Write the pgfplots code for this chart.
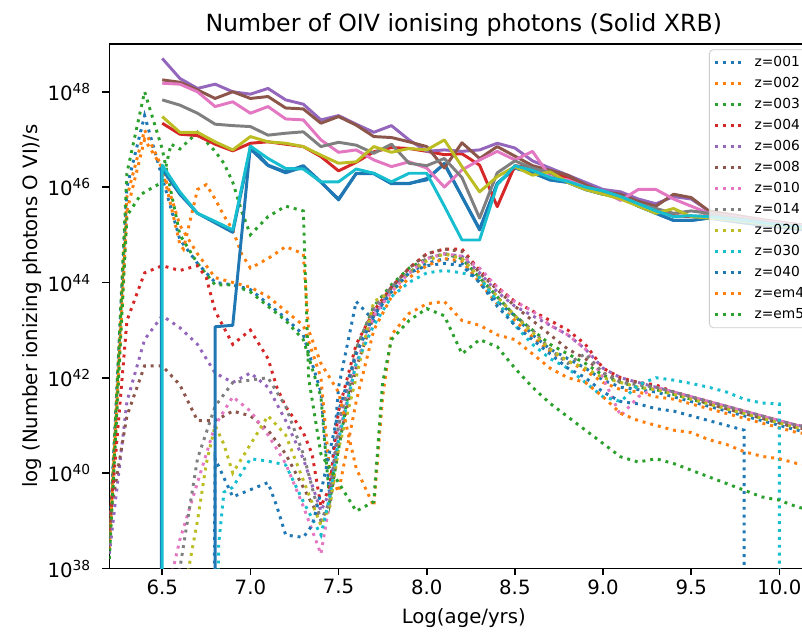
\documentclass[border=0pt]{standalone}
\usepackage{fontspec}
\setmainfont{DejaVu Sans}
\usepackage{pgfplots}
\pgfplotsset{compat=1.18}
\definecolor{C0}{HTML}{1F77B4}
\definecolor{C1}{HTML}{FF7F0E}
\definecolor{C2}{HTML}{2CA02C}
\definecolor{C3}{HTML}{D62728}
\definecolor{C4}{HTML}{9467BD}
\definecolor{C5}{HTML}{8C564B}
\definecolor{C6}{HTML}{E377C2}
\definecolor{C7}{HTML}{7F7F7F}
\definecolor{C8}{HTML}{BCBD22}
\definecolor{C9}{HTML}{17BECF}
\pgfplotsset{
  dotl/.style={line width=1.5pt, dash pattern=on 1.5pt off 2.5pt},
  soll/.style={line width=1.5pt, line join=round, forget plot},
}
\begin{document}
\begin{tikzpicture}
\begin{axis}[
  at={(0,0)}, anchor=south west,
  scale only axis, width=359.8pt, height=266.1pt,
  xmin=6.2, xmax=10.22, ymin=38, ymax=49,
  xtick={6.5,7,7.5,8,8.5,9,9.5,10},
  xticklabels={6.5,7.0,7.5,8.0,8.5,9.0,9.5,10.0},
  ytick={38,40,42,44,46,48},
  yticklabels={10\textsuperscript{38},10\textsuperscript{40},10\textsuperscript{42},10\textsuperscript{44},10\textsuperscript{46},10\textsuperscript{48}},
  minor tick num=0,
  tick pos=left, tick align=outside, major tick length=3.5pt,
  every tick/.style={black, line width=0.8pt},
  axis line style={line width=0.8pt},
  xticklabel style={font=\fontsize{10}{12}\selectfont, anchor=north, inner sep=0pt, yshift=-2pt},
  yticklabel style={font=\fontsize{10}{12}\selectfont, anchor=base east, inner sep=0pt, xshift=-5.5pt, yshift=-4.5pt},
  title={Number of OIV ionising photons (Solid XRB)},
  title style={font=\fontsize{12}{14}\selectfont, at={(axis description cs:0.5,1.0019)}, anchor=base, inner sep=0pt},
  xlabel={Log(age/yrs)},
  xlabel style={font=\fontsize{10}{12}\selectfont, at={(axis description cs:0.5,-0.1060)}, anchor=base, inner sep=0pt},
  ylabel={log (Number ionizing photons O VI)/s},
  ylabel style={font=\fontsize{10}{12}\selectfont, at={(axis description cs:-0.1014,0.5)}, anchor=base, inner sep=0pt},
  legend cell align=left,
  legend image code/.code={\draw[#1] (0pt,0pt) -- (14.4pt,0pt); \path (0pt,0pt) (18pt,0pt);},
  legend style={
    at={(axis description cs:0.846,0.99)}, anchor=north west,
    draw=black!20, fill=white, fill opacity=0.8, text opacity=1, draw opacity=1,
    rounded corners=2pt,
    font=\fontsize{7}{8}\selectfont,
    inner xsep=2pt, inner ysep=1.8pt,
    nodes={inner sep=1.5pt, text height=5.2pt, text depth=1.5pt},
    row sep=0.95pt,
  },
]
% ---------------- dotted series ----------------
\addplot[dotl, C0] coordinates {(6.2,38.6)(6.3,46.0)(6.4,47.5)(6.5,46.2)(6.6,44.9)(6.7,44.4)(6.8,44.0)(6.9,43.95)(7.0,43.85)(7.1,43.55)(7.2,43.25)(7.3,42.9)(7.4,41.7)(7.45,39.5)(7.5,41.8)(7.6,43.6)(7.7,43.2)(7.8,43.9)(7.9,44.2)(8.0,44.4)(8.1,44.5)(8.2,44.4)(8.3,44.0)(8.4,43.6)(8.5,43.3)(8.6,42.9)(8.7,42.6)(8.8,42.4)(8.9,42.2)(9.0,41.95)(9.1,41.8)(9.2,41.75)(9.3,41.7)(9.4,41.6)(9.5,41.5)(9.6,41.4)(9.7,41.3)(9.8,41.2)(9.9,41.1)(10.0,41.0)(10.1,40.9)(10.2,40.85)(10.3,40.8)};
\addlegendentry{z=001}
\addplot[dotl, C1] coordinates {(6.2,38.5)(6.3,45.8)(6.4,47.2)(6.5,46.4)(6.6,45.2)(6.7,44.6)(6.8,44.1)(6.9,44.0)(7.0,43.9)(7.1,43.7)(7.2,43.4)(7.3,43.1)(7.4,42.0)(7.45,40.0)(7.5,39.6)(7.6,41.5)(7.7,43.0)(7.8,43.7)(7.9,44.1)(8.0,44.35)(8.1,44.5)(8.2,44.45)(8.3,44.0)(8.4,43.55)(8.5,43.2)(8.6,42.85)(8.7,42.55)(8.8,42.35)(8.9,42.15)(9.0,41.9)(9.1,41.75)(9.2,41.7)(9.3,41.6)(9.4,41.55)(9.5,41.45)(9.6,41.35)(9.7,41.25)(9.8,41.15)(9.9,41.05)(10.0,40.95)(10.1,40.85)(10.2,40.8)(10.3,40.75)};
\addlegendentry{z=002}
\addplot[dotl, C2] coordinates {(6.2,38.3)(6.3,46.3)(6.4,48.0)(6.5,46.8)(6.6,45.0)(6.7,44.4)(6.8,43.95)(6.9,43.95)(7.0,43.8)(7.1,43.5)(7.2,43.2)(7.3,42.8)(7.4,41.6)(7.45,39.4)(7.5,40.5)(7.6,42.6)(7.7,43.5)(7.8,43.95)(7.9,44.3)(8.0,44.5)(8.1,44.6)(8.2,44.5)(8.3,44.1)(8.4,43.7)(8.5,43.3)(8.6,43.0)(8.7,42.7)(8.8,42.5)(8.9,42.3)(9.0,42.05)(9.1,41.9)(9.2,41.8)(9.3,41.75)(9.4,41.65)(9.5,41.55)(9.6,41.45)(9.7,41.35)(9.8,41.25)(9.9,41.15)(10.0,41.05)(10.1,40.95)(10.2,40.9)(10.3,40.85)};
\addlegendentry{z=003}
\addplot[dotl, C3] coordinates {(6.2,38.8)(6.3,43.2)(6.4,44.2)(6.5,44.35)(6.6,44.25)(6.7,44.35)(6.75,44.1)(6.8,43.4)(6.9,42.7)(7.0,43.0)(7.1,42.4)(7.15,41.8)(7.2,41.4)(7.3,40.85)(7.35,40.4)(7.4,39.3)(7.45,39.7)(7.5,41.3)(7.6,42.7)(7.7,43.4)(7.8,43.9)(7.9,44.3)(8.0,44.6)(8.1,44.7)(8.2,44.7)(8.3,44.25)(8.4,43.9)(8.5,43.6)(8.6,43.4)(8.7,43.2)(8.8,43.0)(8.9,42.7)(9.0,42.2)(9.1,42.0)(9.2,41.9)(9.3,41.85)(9.4,41.7)(9.5,41.6)(9.6,41.5)(9.7,41.4)(9.8,41.3)(9.9,41.2)(10.0,41.1)(10.1,41.0)(10.2,40.95)(10.3,40.9)};
\addlegendentry{z=004}
\addplot[dotl, C4] coordinates {(6.2,38.3)(6.3,41.5)(6.4,42.8)(6.5,43.3)(6.6,43.05)(6.7,42.7)(6.8,42.1)(6.9,41.9)(7.0,42.1)(7.1,41.8)(7.2,41.1)(7.3,40.3)(7.4,39.2)(7.45,39.6)(7.5,41.0)(7.6,42.5)(7.7,43.4)(7.8,43.9)(7.9,44.2)(8.0,44.5)(8.1,44.6)(8.2,44.55)(8.3,44.2)(8.4,43.8)(8.5,43.5)(8.6,43.3)(8.7,43.1)(8.8,42.9)(8.9,42.6)(9.0,42.2)(9.1,42.0)(9.2,41.9)(9.3,41.8)(9.4,41.7)(9.5,41.6)(9.6,41.5)(9.7,41.4)(9.8,41.3)(9.9,41.2)(10.0,41.1)(10.1,41.0)(10.2,40.95)(10.3,40.9)};
\addlegendentry{z=006}
\addplot[dotl, C5] coordinates {(6.2,39.0)(6.3,41.2)(6.4,42.25)(6.5,42.25)(6.6,41.85)(6.7,41.1)(6.8,41.1)(6.9,41.3)(7.0,41.2)(7.1,40.9)(7.2,40.4)(7.3,39.7)(7.4,39.0)(7.45,39.3)(7.5,40.6)(7.6,42.2)(7.7,43.3)(7.8,43.9)(7.9,44.3)(8.0,44.6)(8.1,44.7)(8.2,44.65)(8.3,44.2)(8.4,43.85)(8.5,43.5)(8.6,43.2)(8.7,42.9)(8.8,42.6)(8.9,42.4)(9.0,42.1)(9.1,41.95)(9.2,41.9)(9.3,41.8)(9.4,41.7)(9.5,41.6)(9.6,41.45)(9.7,41.35)(9.8,41.25)(9.9,41.15)(10.0,41.05)(10.1,40.95)(10.2,40.9)(10.3,40.85)};
\addlegendentry{z=008}
\addplot[dotl, C6] coordinates {(6.5,30)(6.55,37.8)(6.6,38.6)(6.7,39.8)(6.8,41.0)(6.9,41.6)(7.0,41.3)(7.1,40.8)(7.2,40.2)(7.3,39.3)(7.4,38.3)(7.45,39.4)(7.5,40.8)(7.6,42.3)(7.7,43.3)(7.8,43.8)(7.9,44.2)(8.0,44.5)(8.1,44.6)(8.2,44.55)(8.3,44.3)(8.4,43.9)(8.5,43.6)(8.6,43.4)(8.7,43.1)(8.8,42.9)(8.9,42.6)(9.0,42.0)(9.1,41.2)(9.2,41.6)(9.3,41.8)(9.4,41.7)(9.5,41.6)(9.6,41.5)(9.7,41.4)(9.8,41.3)(9.9,41.2)(10.0,41.1)(10.1,41.0)(10.2,40.95)(10.3,40.9)};
\addlegendentry{z=010}
\addplot[dotl, C7] coordinates {(6.55,30)(6.6,38.0)(6.7,40.3)(6.8,41.4)(6.9,41.9)(7.0,41.95)(7.1,42.0)(7.2,41.4)(7.3,40.4)(7.4,39.0)(7.45,39.4)(7.5,41.0)(7.6,42.6)(7.7,43.5)(7.8,43.9)(7.9,44.2)(8.0,44.5)(8.1,44.6)(8.2,44.5)(8.3,44.1)(8.4,43.7)(8.5,43.3)(8.6,43.0)(8.7,42.6)(8.8,42.3)(8.9,42.5)(9.0,42.1)(9.1,41.9)(9.2,41.85)(9.3,41.8)(9.4,41.7)(9.5,41.6)(9.6,41.5)(9.7,41.4)(9.8,41.3)(9.9,41.2)(10.0,41.1)(10.1,41.0)(10.2,40.95)(10.3,40.9)};
\addlegendentry{z=014}
\addplot[dotl, C8] coordinates {(6.6,30)(6.65,38.0)(6.7,39.0)(6.75,40.2)(6.8,41.0)(6.85,40.6)(6.9,40.0)(7.0,40.6)(7.1,41.2)(7.2,40.8)(7.3,39.85)(7.4,38.9)(7.45,39.3)(7.5,40.5)(7.6,42.0)(7.7,43.6)(7.8,43.8)(7.9,44.2)(8.0,44.45)(8.1,44.6)(8.2,44.5)(8.3,44.1)(8.4,43.7)(8.5,43.3)(8.6,42.95)(8.7,42.6)(8.8,42.35)(8.9,42.2)(9.0,42.0)(9.1,41.9)(9.2,41.8)(9.3,41.75)(9.4,41.65)(9.5,41.55)(9.6,41.45)(9.7,41.35)(9.8,41.25)(9.9,41.15)(10.0,41.05)(10.1,40.95)(10.2,40.9)(10.3,40.85)};
\addlegendentry{z=020}
\addplot[dotl, C9] coordinates {(6.8,30)(6.82,38.5)(6.85,39.6)(6.9,39.7)(7.0,40.3)(7.1,40.25)(7.2,40.17)(7.3,39.4)(7.4,38.7)(7.45,39.5)(7.5,40.7)(7.6,42.3)(7.7,43.1)(7.8,43.7)(7.9,44.0)(8.0,44.2)(8.1,44.25)(8.2,44.2)(8.3,44.1)(8.4,43.6)(8.5,43.1)(8.6,42.7)(8.7,42.4)(8.8,42.2)(8.9,41.9)(9.0,41.6)(9.1,41.5)(9.2,41.85)(9.3,42.0)(9.4,41.95)(9.5,41.88)(9.6,41.8)(9.7,41.7)(9.8,41.55)(9.9,41.47)(10.0,41.45)(10.0,30)};
\addlegendentry{z=030}
\addplot[dotl, C0] coordinates {(6.78,30)(6.8,40.3)(6.85,39.9)(6.9,39.5)(7.0,39.65)(7.1,39.8)(7.15,39.3)(7.2,38.7)(7.3,38.65)(7.35,38.9)(7.4,39.6)(7.5,41.3)(7.6,42.5)(7.7,43.3)(7.8,43.8)(7.9,44.2)(8.0,44.35)(8.1,44.4)(8.2,44.35)(8.3,44.0)(8.4,43.5)(8.5,43.1)(8.6,42.8)(8.7,42.5)(8.8,42.2)(8.9,42.0)(9.0,41.7)(9.1,41.5)(9.2,41.45)(9.3,41.35)(9.4,41.3)(9.5,41.2)(9.6,41.1)(9.7,41.0)(9.8,40.9)(9.8,30)};
\addlegendentry{z=040}
\addplot[dotl, C1] coordinates {(6.2,38.4)(6.3,45.5)(6.4,47.0)(6.5,46.4)(6.6,44.8)(6.62,44.7)(6.7,45.95)(6.75,46.05)(6.8,45.75)(6.85,45.4)(6.9,45.1)(6.95,44.6)(7.0,44.3)(7.1,44.5)(7.2,44.75)(7.3,44.6)(7.33,43.0)(7.4,42.3)(7.5,41.7)(7.55,40.9)(7.6,40.1)(7.7,39.3)(7.75,41.6)(7.8,42.9)(7.9,43.35)(8.0,43.55)(8.1,43.6)(8.2,43.2)(8.3,43.1)(8.4,42.9)(8.5,42.8)(8.6,42.5)(8.7,42.2)(8.8,42.0)(8.9,41.9)(9.0,41.6)(9.1,41.25)(9.2,41.1)(9.3,41.0)(9.4,40.9)(9.5,40.85)(9.6,40.7)(9.7,40.6)(9.8,40.45)(9.9,40.35)(10.0,40.3)(10.1,40.2)(10.2,40.15)(10.3,40.1)};
\addlegendentry{z=em4}
\addplot[dotl, C2] coordinates {(6.2,38.2)(6.3,45.4)(6.38,45.85)(6.45,46.0)(6.5,46.1)(6.55,46.9)(6.6,46.8)(6.7,47.15)(6.8,46.75)(6.85,46.5)(6.9,46.1)(6.95,45.5)(7.0,45.0)(7.1,45.38)(7.2,45.6)(7.3,45.5)(7.33,42.0)(7.4,40.4)(7.5,39.8)(7.6,39.2)(7.7,39.4)(7.75,41.9)(7.8,42.8)(7.9,43.2)(8.0,43.45)(8.1,43.3)(8.2,42.5)(8.3,42.8)(8.4,42.65)(8.5,42.2)(8.6,41.8)(8.7,41.46)(8.8,41.18)(8.9,40.9)(9.0,40.62)(9.1,40.34)(9.2,40.23)(9.3,40.3)(9.4,40.2)(9.5,40.06)(9.6,39.92)(9.7,39.78)(9.8,39.64)(9.9,39.5)(10.0,39.43)(10.1,39.29)(10.2,39.2)(10.3,39.1)};
\addlegendentry{z=em5}
% ---------------- solid series ----------------
\addplot[soll, C0] coordinates {(6.495,30)(6.495,46.4)(6.6,45.85)(6.7,45.45)(6.8,45.25)(6.9,45.05)(7.0,46.8)(7.1,46.45)(7.2,46.3)(7.3,46.42)(7.4,46.1)(7.5,45.75)(7.6,46.28)(7.7,46.28)(7.8,46.07)(7.9,46.07)(8.0,46.18)(8.1,46.48)(8.2,45.8)(8.3,45.12)(8.4,46.07)(8.5,46.4)(8.6,46.3)(8.7,46.15)(8.8,46.1)(8.9,45.95)(9.0,45.85)(9.1,45.8)(9.2,45.6)(9.3,45.45)(9.4,45.3)(9.5,45.3)(9.6,45.35)(9.7,45.3)(9.8,45.25)(9.9,45.2)(10.0,45.16)(10.1,45.12)(10.2,45.08)(10.3,45.04)};
\addplot[soll, C0] coordinates {(6.8,30)(6.8,43.07)(6.9,43.1)(7.0,46.86)(7.1,46.46)(7.2,46.32)(7.3,46.45)(7.4,46.11)(7.5,45.73)(7.6,46.29)(7.7,46.29)(7.8,46.08)(7.9,46.08)(8.0,46.15)(8.1,46.5)(8.2,45.8)(8.3,45.1)(8.4,46.08)(8.5,46.4)(8.6,46.3)(8.7,46.15)(8.8,46.1)(8.9,45.95)(9.0,45.85)(9.1,45.8)(9.2,45.6)(9.3,45.45)(9.4,45.3)(9.5,45.3)(9.6,45.35)(9.7,45.3)(9.8,45.25)(9.9,45.2)(10.0,45.16)(10.1,45.12)(10.2,45.08)(10.3,45.04)};
\addplot[soll, C3] coordinates {(6.5,47.34)(6.6,47.11)(6.7,47.08)(6.8,46.90)(6.9,46.76)(7.0,46.92)(7.1,46.95)(7.2,46.90)(7.3,46.85)(7.4,46.64)(7.5,46.34)(7.6,46.52)(7.7,46.74)(7.8,46.83)(7.9,46.81)(8.0,46.75)(8.1,46.68)(8.2,46.7)(8.3,46.46)(8.4,45.59)(8.5,46.45)(8.6,46.4)(8.7,46.3)(8.8,46.2)(8.9,46.0)(9.0,45.9)(9.1,45.85)(9.2,45.7)(9.3,45.55)(9.4,45.4)(9.5,45.38)(9.6,45.4)(9.7,45.36)(9.8,45.31)(9.9,45.26)(10.0,45.22)(10.1,45.18)(10.2,45.14)(10.3,45.1)};
\addplot[soll, C4] coordinates {(6.5,48.70)(6.6,48.28)(6.7,48.07)(6.8,48.16)(6.9,48.0)(7.0,47.95)(7.1,48.07)(7.2,47.83)(7.3,47.74)(7.4,47.41)(7.5,47.50)(7.6,47.32)(7.7,47.15)(7.8,47.29)(7.9,46.99)(8.0,46.75)(8.1,46.78)(8.2,46.75)(8.3,46.78)(8.4,46.92)(8.5,46.82)(8.6,46.55)(8.7,46.4)(8.8,46.25)(8.9,46.1)(9.0,45.95)(9.1,45.9)(9.2,45.75)(9.3,45.65)(9.4,45.8)(9.5,45.75)(9.6,45.5)(9.7,45.42)(9.8,45.36)(9.9,45.3)(10.0,45.25)(10.1,45.2)(10.2,45.16)(10.3,45.12)};
\addplot[soll, C5] coordinates {(6.5,48.25)(6.6,48.20)(6.7,48.04)(6.8,47.86)(6.9,48.0)(7.0,47.86)(7.1,47.9)(7.2,47.66)(7.3,47.64)(7.4,47.34)(7.5,47.48)(7.6,47.30)(7.7,47.06)(7.8,47.04)(7.9,46.95)(8.0,46.85)(8.1,46.4)(8.2,46.93)(8.3,46.6)(8.4,46.85)(8.5,46.65)(8.6,46.45)(8.7,46.35)(8.8,46.25)(8.9,46.05)(9.0,45.9)(9.1,45.85)(9.2,45.7)(9.3,45.6)(9.4,45.85)(9.5,45.78)(9.6,45.5)(9.7,45.44)(9.8,45.38)(9.9,45.32)(10.0,45.27)(10.1,45.22)(10.2,45.18)(10.3,45.14)};
\addplot[soll, C6] coordinates {(6.5,48.18)(6.6,48.16)(6.7,48.0)(6.8,47.69)(6.9,47.79)(7.0,47.55)(7.1,47.69)(7.2,47.43)(7.3,47.41)(7.4,46.99)(7.5,46.73)(7.6,46.78)(7.7,46.57)(7.8,46.43)(7.9,46.53)(8.0,46.4)(8.1,46.0)(8.2,46.36)(8.3,46.57)(8.4,46.75)(8.5,46.57)(8.6,46.75)(8.7,46.22)(8.8,46.15)(8.9,46.0)(9.0,45.9)(9.1,45.72)(9.2,45.95)(9.3,45.95)(9.4,45.75)(9.5,45.6)(9.6,45.45)(9.7,45.4)(9.8,45.35)(9.9,45.3)(10.0,45.25)(10.1,45.2)(10.2,45.16)(10.3,45.12)};
\addplot[soll, C7] coordinates {(6.5,47.83)(6.6,47.72)(6.7,47.55)(6.8,47.32)(6.9,47.29)(7.0,47.27)(7.1,47.09)(7.2,47.13)(7.3,47.16)(7.4,46.85)(7.5,46.94)(7.6,46.88)(7.7,46.71)(7.8,46.90)(7.9,46.50)(8.0,46.45)(8.1,46.6)(8.2,46.2)(8.3,45.35)(8.4,46.3)(8.5,46.55)(8.6,46.4)(8.7,46.3)(8.8,46.1)(8.9,45.95)(9.0,45.9)(9.1,45.8)(9.2,45.65)(9.3,45.55)(9.4,45.45)(9.5,45.5)(9.6,45.45)(9.7,45.38)(9.8,45.33)(9.9,45.28)(10.0,45.23)(10.1,45.18)(10.2,45.14)(10.3,45.1)};
\addplot[soll, C8] coordinates {(6.5,47.48)(6.6,47.15)(6.7,47.15)(6.8,46.95)(6.9,46.78)(7.0,47.06)(7.1,46.95)(7.2,46.92)(7.3,46.85)(7.4,46.67)(7.5,46.50)(7.6,46.53)(7.7,46.85)(7.8,46.73)(7.9,46.81)(8.0,46.78)(8.1,46.99)(8.2,46.43)(8.3,45.9)(8.4,46.22)(8.5,46.43)(8.6,46.25)(8.7,46.32)(8.8,46.1)(8.9,45.95)(9.0,45.85)(9.1,45.75)(9.2,45.6)(9.3,45.45)(9.4,45.55)(9.5,45.38)(9.6,45.35)(9.7,45.32)(9.8,45.28)(9.9,45.23)(10.0,45.19)(10.1,45.15)(10.2,45.11)(10.3,45.07)};
\addplot[soll, C9] coordinates {(6.5,30)(6.5,46.46)(6.6,45.9)(6.7,45.45)(6.8,45.28)(6.9,45.1)(7.0,46.86)(7.1,46.60)(7.2,46.39)(7.3,46.38)(7.4,46.11)(7.5,46.11)(7.6,46.38)(7.7,46.29)(7.8,46.11)(7.9,46.29)(8.0,46.29)(8.1,45.6)(8.2,44.89)(8.3,44.89)(8.4,46.05)(8.5,46.45)(8.6,46.35)(8.7,46.2)(8.8,46.12)(8.9,46.0)(9.0,45.92)(9.1,45.8)(9.2,45.65)(9.3,45.5)(9.4,45.38)(9.5,45.4)(9.6,45.38)(9.7,45.34)(9.8,45.3)(9.9,45.25)(10.0,45.21)(10.1,45.17)(10.2,45.13)(10.3,45.09)};
\end{axis}
\pgfresetboundingbox
\useasboundingbox (-55.5pt,-32.3pt) rectangle (351.6pt,288.5pt);
\end{tikzpicture}
\end{document}
